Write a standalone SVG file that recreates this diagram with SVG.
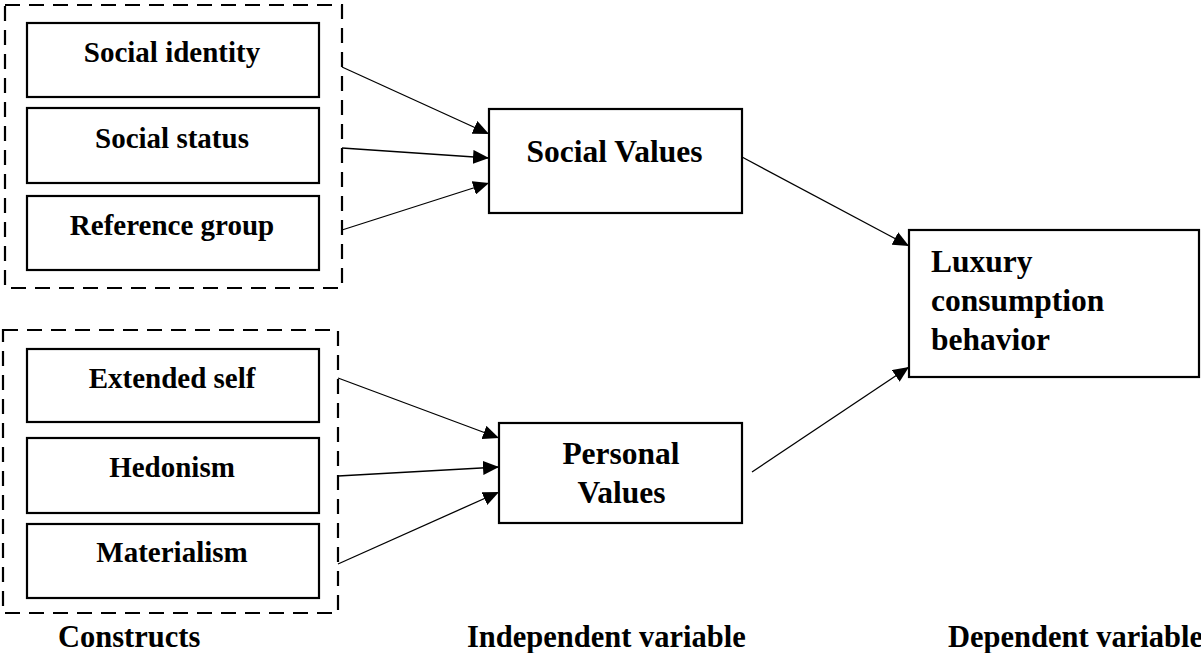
<svg xmlns="http://www.w3.org/2000/svg" width="1201" height="653" viewBox="0 0 1201 653">
<style>
.box{fill:#fff;stroke:#000;stroke-width:2.2}
.grp{fill:none;stroke:#000;stroke-width:2.2;stroke-dasharray:15 9}
.t{font-family:"Liberation Serif","Times New Roman",serif;font-weight:bold;fill:#000}
.c{font-size:29px;text-anchor:middle}
.m{font-size:31.5px;text-anchor:middle}
.l{font-size:31.5px}
.b{font-size:30.5px}
.edge{stroke:#000;stroke-width:1.3;fill:none;marker-end:url(#ah)}
</style>
<defs>
<marker id="ah" markerUnits="userSpaceOnUse" markerWidth="17" markerHeight="14" refX="16" refY="7" orient="auto">
<path d="M0,0 L16,7 L0,14 Z" fill="#000"/>
</marker>
</defs>
<rect width="1201" height="653" fill="#fff"/>
<g id="social-group"><rect class="grp" x="5" y="5" width="337" height="283"/></g>
<g id="personal-group"><rect class="grp" x="3" y="330" width="335" height="283"/></g>
<g id="social-identity"><rect class="box" x="27" y="23" width="292" height="74"/><text class="t c" x="172" y="62">Social identity</text></g>
<g id="social-status"><rect class="box" x="27" y="108" width="292" height="75"/><text class="t c" x="172" y="148">Social status</text></g>
<g id="reference-group"><rect class="box" x="27" y="196" width="292" height="74"/><text class="t c" x="172" y="235">Reference group</text></g>
<g id="extended-self"><rect class="box" x="27" y="349" width="292" height="73"/><text class="t c" x="172" y="388">Extended self</text></g>
<g id="hedonism"><rect class="box" x="27" y="438" width="292" height="75"/><text class="t c" x="172" y="477">Hedonism</text></g>
<g id="materialism"><rect class="box" x="27" y="524" width="292" height="74"/><text class="t c" x="172" y="562">Materialism</text></g>
<g id="social-values"><rect class="box" x="489" y="109" width="253" height="104"/><text class="t m" x="614.5" y="162">Social Values</text></g>
<g id="personal-values"><rect class="box" x="499" y="423" width="243" height="100"/><text class="t m" x="621" y="464">Personal</text><text class="t m" x="621.5" y="503">Values</text></g>
<g id="luxury"><rect class="box" x="909" y="230" width="290" height="147"/><text class="t l" x="931" y="272">Luxury</text><text class="t l" x="931" y="311">consumption</text><text class="t l" x="931" y="350">behavior</text></g>
<g id="connectors">
<line class="edge" x1="342" y1="67" x2="489" y2="134"/>
<line class="edge" x1="342" y1="148" x2="489" y2="158"/>
<line class="edge" x1="342" y1="230" x2="489" y2="183"/>
<line class="edge" x1="338" y1="378" x2="499" y2="438"/>
<line class="edge" x1="338" y1="476" x2="499" y2="467"/>
<line class="edge" x1="338" y1="564" x2="499" y2="492"/>
<line class="edge" x1="742" y1="157" x2="909" y2="246"/>
<line class="edge" x1="752" y1="472" x2="909" y2="367"/>
</g>
<g id="labels">
<text class="t b" x="58" y="647">Constructs</text>
<text class="t b" x="467" y="647">Independent variable</text>
<text class="t b" x="948" y="647">Dependent variable</text>
</g>
</svg>
